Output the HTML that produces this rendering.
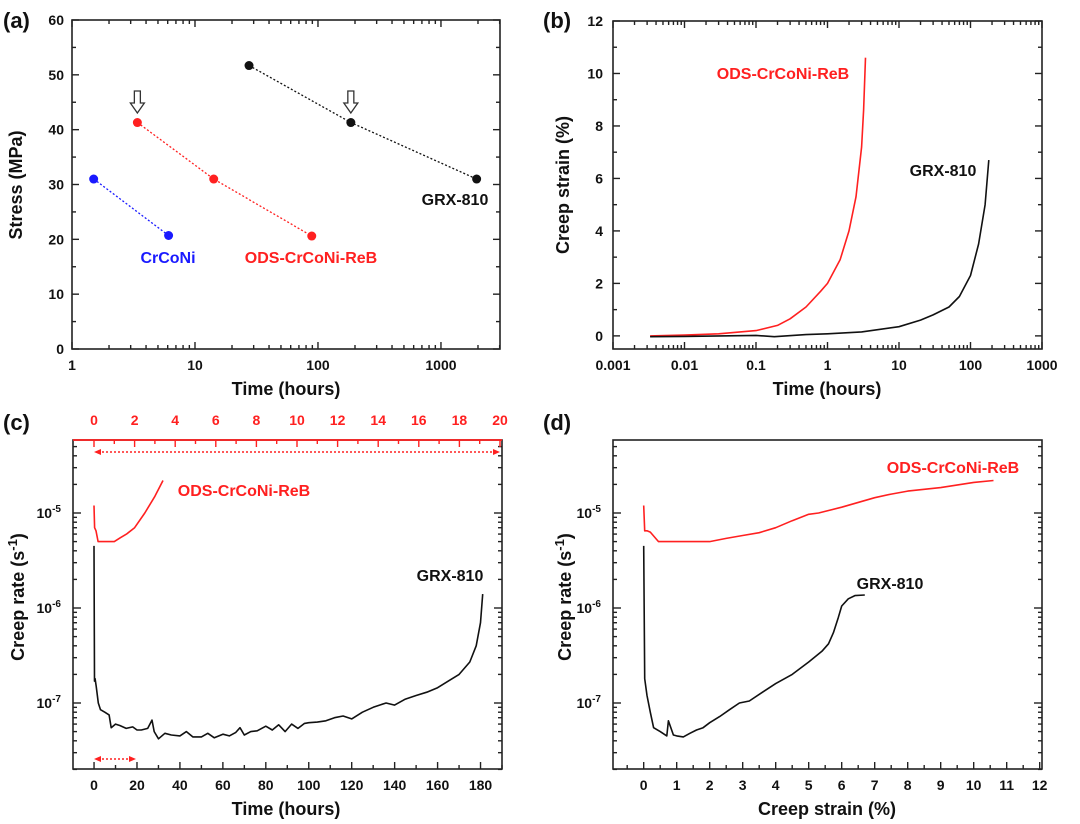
<!DOCTYPE html>
<html><head><meta charset="utf-8">
<style>
html,body{margin:0;padding:0;background:#fff;}
svg{display:block;font-family:"Liberation Sans",Arial,sans-serif;font-weight:bold;}
</style></head>
<body>
<svg id="fig" width="1080" height="824" viewBox="0 0 1080 824" xmlns="http://www.w3.org/2000/svg"></svg>
<script>
// ---- Panel (a) data ----
const aCrCoNiTime=[1.5,6.1];
const aCrCoNiStress=[31,20.7];
const aOdsTime=[3.4,14.2,89];
const aOdsStress=[41.3,31,20.6];
const aGrxTime=[27.5,185,1950];
const aGrxStress=[51.7,41.3,31];
const aYTicks=[0,10,20,30,40,50,60];
const aXTicks=[1,10,100,1000];
// ---- Panel (b) data ----
const bOdsTime=[0.0033,0.01,0.03,0.1,0.2,0.3,0.5,0.8,1,1.5,2,2.5,3,3.2,3.4];
const bOdsStrain=[0.0,0.03,0.08,0.2,0.4,0.65,1.1,1.7,2.0,2.9,4.0,5.3,7.2,8.6,10.6];
const bGrxTime=[0.0033,0.01,0.1,0.18,0.5,1,3,10,20,30,50,70,100,130,160,180];
const bGrxStrain=[-0.03,-0.02,0.02,-0.03,0.05,0.08,0.15,0.35,0.6,0.8,1.1,1.5,2.3,3.5,5.0,6.7];
const bYTicks=[0,2,4,6,8,10,12];
const bXTicks=[0.001,0.01,0.1,1,10,100,1000];
const bXLabels=["0.001","0.01","0.1","1","10","100","1000"];
// ---- Panel (c) data ----
const cOdsTime=[0,0.03,0.1,0.2,0.5,1,1.3,1.6,2,2.5,3,3.4];
const cOdsRate=[1.2e-5,7e-6,6.5e-6,5e-6,5e-6,5e-6,5.5e-6,6e-6,7e-6,1e-5,1.5e-5,2.2e-5];
const cGrxTime=[0,0.2,0.5,1,2,3,5,7,8,10,12,15,18,20,22,25,27,28,30,33,36,40,43,46,50,53,56,60,63,66,68,70,73,76,80,83,86,89,92,95,98,100,104,108,112,116,120,125,130,133,136,140,145,150,155,160,165,170,175,178,180,181];
const cGrxRate=[4.5e-6,1.7e-7,1.8e-7,1.5e-7,1e-7,8.5e-8,8e-8,7.5e-8,5.5e-8,6e-8,5.8e-8,5.4e-8,5.6e-8,5.2e-8,5.2e-8,5.4e-8,6.6e-8,5e-8,4.2e-8,4.8e-8,4.6e-8,4.5e-8,5e-8,4.4e-8,4.4e-8,4.8e-8,4.3e-8,4.7e-8,4.5e-8,4.9e-8,5.5e-8,4.6e-8,5e-8,5.1e-8,5.7e-8,5.2e-8,5.9e-8,5e-8,6e-8,5.4e-8,6.1e-8,6.2e-8,6.3e-8,6.5e-8,7e-8,7.3e-8,6.8e-8,8e-8,9e-8,9.5e-8,1e-7,9.5e-8,1.1e-7,1.2e-7,1.3e-7,1.45e-7,1.7e-7,2e-7,2.7e-7,4e-7,7e-7,1.4e-6];
const cBottomTicks=[0,20,40,60,80,100,120,140,160,180];
const cTopTicks=[0,2,4,6,8,10,12,14,16,18,20];
// ---- Panel (d) data ----
const dOdsStrain=[0,0.03,0.1,0.2,0.45,1,2,2.5,3,3.5,4,4.5,5,5.3,6,7,7.5,8,9,10,10.6];
const dOdsRate=[1.2e-5,6.5e-6,6.5e-6,6.3e-6,5e-6,5e-6,5e-6,5.4e-6,5.8e-6,6.2e-6,7e-6,8.3e-6,9.7e-6,1e-5,1.15e-5,1.45e-5,1.58e-5,1.7e-5,1.85e-5,2.1e-5,2.2e-5];
const dGrxStrain=[0,0.03,0.1,0.2,0.3,0.5,0.7,0.75,0.9,1,1.2,1.4,1.6,1.8,2,2.3,2.6,2.9,3.2,3.6,4,4.5,5,5.4,5.6,5.75,5.9,6,6.2,6.4,6.7];
const dGrxRate=[4.5e-6,1.8e-7,1.2e-7,8e-8,5.5e-8,5e-8,4.5e-8,6.5e-8,4.6e-8,4.5e-8,4.4e-8,4.8e-8,5.2e-8,5.5e-8,6.2e-8,7.2e-8,8.5e-8,1e-7,1.05e-7,1.3e-7,1.6e-7,2e-7,2.7e-7,3.5e-7,4.2e-7,5.5e-7,8e-7,1.05e-6,1.25e-6,1.35e-6,1.37e-6];
const dXTicks=[0,1,2,3,4,5,6,7,8,9,10,11,12];
const logTicks=[1e-7,1e-6,1e-5];

const NS="http://www.w3.org/2000/svg";
const svg=document.getElementById('fig');
function mk(tag,attrs,parent){const e=document.createElementNS(NS,tag);for(const k in attrs)e.setAttribute(k,attrs[k]);(parent||svg).appendChild(e);return e;}
function txt(s,x,y,size,fill,anchor,parent){const t=mk('text',{x:x,y:y,'font-size':size,fill:fill||'#111','text-anchor':anchor||'middle'},parent);t.textContent=s;return t;}
function linScale(d0,d1,r0,r1){return v=>r0+(v-d0)*(r1-r0)/(d1-d0);}
function logScale(d0,d1,r0,r1){return v=>r0+(Math.log10(v)-Math.log10(d0))*(r1-r0)/(Math.log10(d1)-Math.log10(d0));}
function frame(x0,y0,x1,y1,g){mk('rect',{x:x0,y:y0,width:x1-x0,height:y1-y0,fill:'none',stroke:'#222','stroke-width':1.6},g);}
function tickX(x,y0,y1,len,g,col){mk('line',{x1:x,y1:y1,x2:x,y2:y1-len,stroke:col||'#222','stroke-width':1.4},g);mk('line',{x1:x,y1:y0,x2:x,y2:y0+len,stroke:col||'#222','stroke-width':1.4},g);}
function tickY(y,x0,x1,len,g){mk('line',{x1:x0,y1:y,x2:x0+len,y2:y,stroke:'#222','stroke-width':1.4},g);mk('line',{x1:x1,y1:y,x2:x1-len,y2:y,stroke:'#222','stroke-width':1.4},g);}
function poly(xs,ys,sx,sy,col,g,dash,w){const p=xs.map((v,i)=>sx(v).toFixed(1)+','+sy(ys[i]).toFixed(1)).join(' ');const a={points:p,fill:'none',stroke:col,'stroke-width':w||1.6,'stroke-linejoin':'round'};if(dash)a['stroke-dasharray']=dash;return mk('polyline',a,g);}
function ytitle(s,x,y,g){const t=txt(s,x,y,18,'#111','middle',g);t.setAttribute('transform','rotate(-90 '+x+' '+y+')');return t;}
function rateTitle(x,y,g){
  const t=mk('text',{x:x,y:y,'font-size':18,fill:'#111','text-anchor':'middle',transform:'rotate(-90 '+x+' '+y+')'},g);
  const a=mk('tspan',{},t);a.textContent='Creep rate (s';
  const b=mk('tspan',{dy:-7,'font-size':13},t);b.textContent='-1';
  const c=mk('tspan',{dy:7},t);c.textContent=')';
}
function logYAxis(sy,x0,x1,y0,y1,g){
  for(let e=-8;e<=-4;e++){for(let m=1;m<10;m++){const v=m*Math.pow(10,e);const y=sy(v);if(y<y0-0.5||y>y1+0.5)continue;tickY(y,x0,x1,m===1?8:4,g);}}
  logTicks.forEach(v=>{const y=sy(v);const e=Math.round(Math.log10(v));const t=txt('10',x0-12,y+5,14,'#111','end',g);const s=mk('tspan',{dy:-6,'font-size':10},t);s.textContent=String(e);});
}

// ===== Panel (a) =====
const gA=mk('g',{});
const axL=72,axR=500,ayT=20,ayB=349;
const sxA=logScale(1,3020,axL,axR), syA=linScale(0,60,ayB,ayT);
frame(axL,ayT,axR,ayB,gA);
aYTicks.forEach(v=>{tickY(syA(v),axL,axR,7,gA);txt(String(v),axL-8,syA(v)+5,14,'#111','end',gA);});
for(let v=5;v<60;v+=10)tickY(syA(v),axL,axR,4,gA);
for(let e=0;e<=3;e++)for(let m=1;m<10;m++){const v=m*Math.pow(10,e);if(v>3020)continue;tickX(sxA(v),ayT,ayB,m===1?7:4,gA);}
aXTicks.forEach(v=>txt(String(v),sxA(v),370,14,'#111','middle',gA));
txt('Time (hours)',286,395,18,'#111','middle',gA);
ytitle('Stress (MPa)',22,185,gA);
txt('(a)',3,28,22,'#111','start',gA);
[[aCrCoNiTime,aCrCoNiStress,'#1a1aff'],[aOdsTime,aOdsStress,'#ff2020'],[aGrxTime,aGrxStress,'#111']].forEach(([xs,ys,c])=>{
  poly(xs,ys,sxA,syA,c,gA,'2,2',1.3);
  xs.forEach((v,i)=>{const d=mk('circle',{cx:sxA(v),cy:syA(ys[i]),r:4.5,fill:c},gA);});
});
[aOdsTime[0],aGrxTime[1]].forEach(v=>{const x=sxA(v);mk('path',{d:`M${x-3},91 h6 v12 h4 l-7,10 l-7,-10 h4 z`,fill:'#fff',stroke:'#333','stroke-width':1.3},gA);});
txt('CrCoNi',168,263,16,'#1a1aff','middle',gA);
txt('ODS-CrCoNi-ReB',311,263,16,'#ff2020','middle',gA);
txt('GRX-810',455,205,16,'#111','middle',gA);

// ===== Panel (b) =====
const gB=mk('g',{});
const bxL=613,bxR=1042,byT=21,byB=349;
const sxB=logScale(0.001,1000,bxL,bxR), syB=linScale(-0.5,12,byB,byT);
frame(bxL,byT,bxR,byB,gB);
bYTicks.forEach(v=>{tickY(syB(v),bxL,bxR,7,gB);txt(String(v),bxL-10,syB(v)+5,14,'#111','end',gB);});
for(let v=1;v<12;v+=2)tickY(syB(v),bxL,bxR,4,gB);
for(let e=-3;e<=2;e++)for(let m=1;m<10;m++){tickX(sxB(m*Math.pow(10,e)),byT,byB,m===1?7:4,gB);}
tickX(sxB(1000),byT,byB,7,gB);
bXTicks.forEach((v,i)=>txt(bXLabels[i],sxB(v),370,14,'#111','middle',gB));
txt('Time (hours)',827,395,18,'#111','middle',gB);
ytitle('Creep strain (%)',569,185,gB);
txt('(b)',543,28,22,'#111','start',gB);
poly(bOdsTime,bOdsStrain,sxB,syB,'#ff2020',gB);
poly(bGrxTime,bGrxStrain,sxB,syB,'#111',gB);
txt('ODS-CrCoNi-ReB',783,79,16,'#ff2020','middle',gB);
txt('GRX-810',943,176,16,'#111','middle',gB);

// ===== Panel (c) =====
const gC=mk('g',{});
const cxL=73,cxR=502,cyT=440,cyB=769;
const sxC=linScale(-9.8,190,cxL,cxR), sxCt=linScale(0,20,94,500);
const syC=logScale(1e-7,1e-5,703,513);
frame(cxL,cyT,cxR,cyB,gC);
mk('line',{x1:cxL,y1:cyT,x2:cxR,y2:cyT,stroke:'#ff2020','stroke-width':1.8},gC);
logYAxis(syC,cxL,cxR,cyT,cyB,gC);
for(let v=0;v<=190;v+=10){const x=sxC(v);mk('line',{x1:x,y1:cyB,x2:x,y2:cyB-(v%20===0?7:4),stroke:'#222','stroke-width':1.4},gC);}
cBottomTicks.forEach(v=>txt(String(v),sxC(v),790,14,'#111','middle',gC));
for(let v=0;v<=20;v+=1){const x=sxCt(v);mk('line',{x1:x,y1:cyT,x2:x,y2:cyT+(v%2===0?7:4),stroke:'#ff2020','stroke-width':1.4},gC);}
cTopTicks.forEach(v=>txt(String(v),sxCt(v),425,14,'#ff2020','middle',gC));
txt('Time (hours)',286,815,18,'#111','middle',gC);
rateTitle(24,597,gC);
txt('(c)',3,430,22,'#111','start',gC);
mk('line',{x1:98,y1:452,x2:496,y2:452,stroke:'#ff2020','stroke-width':1.5,'stroke-dasharray':'2,2'},gC);
mk('path',{d:'M94,452 l7,-3 v6 z M500,452 l-7,-3 v6 z',fill:'#ff2020'},gC);
mk('line',{x1:98,y1:759,x2:132,y2:759,stroke:'#ff2020','stroke-width':1.5,'stroke-dasharray':'2,2'},gC);
mk('path',{d:'M94,759 l7,-3 v6 z M136,759 l-7,-3 v6 z',fill:'#ff2020'},gC);
poly(cOdsTime,cOdsRate,sxCt,syC,'#ff2020',gC);
poly(cGrxTime,cGrxRate,sxC,syC,'#111',gC);
txt('ODS-CrCoNi-ReB',244,496,16,'#ff2020','middle',gC);
txt('GRX-810',450,581,16,'#111','middle',gC);

// ===== Panel (d) =====
const gD=mk('g',{});
const dxL=613,dxR=1042,dyT=440,dyB=769;
const sxD=linScale(-0.93,12.07,dxL,dxR), syD=syC;
frame(dxL,dyT,dxR,dyB,gD);
logYAxis(syD,dxL,dxR,dyT,dyB,gD);
for(let v=-0.5;v<=12;v+=0.5){const x=sxD(v);mk('line',{x1:x,y1:dyB,x2:x,y2:dyB-(Number.isInteger(v)?7:4),stroke:'#222','stroke-width':1.4},gD);}
dXTicks.forEach(v=>txt(String(v),sxD(v),790,14,'#111','middle',gD));
txt('Creep strain (%)',827,815,18,'#111','middle',gD);
rateTitle(571,597,gD);
txt('(d)',543,430,22,'#111','start',gD);
poly(dOdsStrain,dOdsRate,sxD,syD,'#ff2020',gD);
poly(dGrxStrain,dGrxRate,sxD,syD,'#111',gD);
txt('ODS-CrCoNi-ReB',953,473,16,'#ff2020','middle',gD);
txt('GRX-810',890,589,16,'#111','middle',gD);
</script>
</body></html>
